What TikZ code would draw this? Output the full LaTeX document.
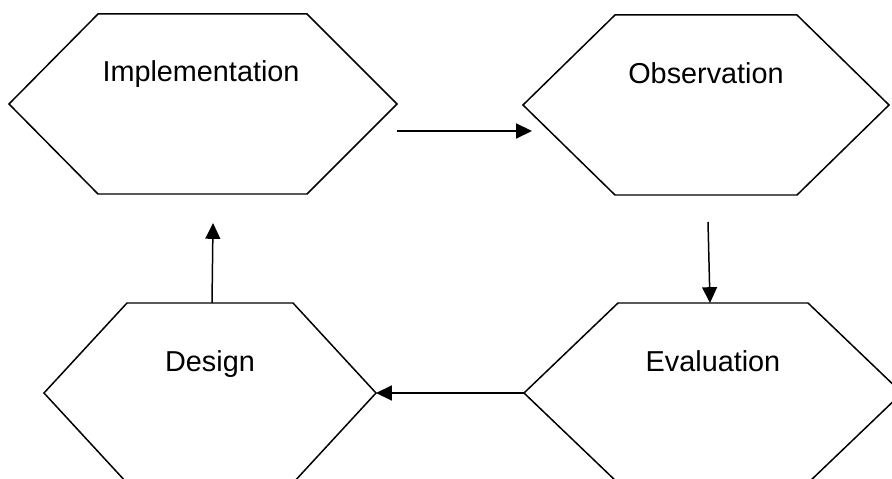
\documentclass[tikz,border=0pt]{standalone}
\usepackage{fontspec}
\setmainfont{Liberation Sans}
\usetikzlibrary{arrows.meta}

\tikzset{
  hexa/.style={draw, line width=0.85pt, line join=miter},
  phase/.style={anchor=base, inner sep=0pt, font=\fontsize{16.4}{19}\selectfont},
  flow/.style={-{Triangle[length=9pt, width=8.5pt]}, line width=0.85pt},
}

\begin{document}
\begin{tikzpicture}[x=0.02cm, y=-0.02cm]

\path[use as bounding box, clip] (0,0) rectangle (892,479);

% top left
\def\x{203}
\def\y{104}
\draw[hexa] (\x + -194, \y) -- (\x + -105, \y + -90) -- (\x + 104, \y + -90) -- (\x + 194, \y)
  -- (\x + 104, \y + 90) -- (\x + -105, \y + 90) -- cycle;
\node[phase] (impl) at (\x + -2, \y + -22) {Implementation};
\coordinate (impl-out) at (\x + 194, \y + 27);
\coordinate (impl-in) at (\x + 10, \y + 119);

% top right
\def\x{706}
\def\y{105}
\draw[hexa] (\x + -183, \y) -- (\x + -91, \y + -90) -- (\x + 91, \y + -90) -- (\x + 183, \y)
  -- (\x + 91, \y + 90) -- (\x + -91, \y + 90) -- cycle;
\node[phase] (obs) at (\x + 0, \y + -21) {Observation};
\coordinate (obs-in) at (\x + -174, \y + 26);
\coordinate (obs-out) at (\x + 2, \y + 117);

% bottom right
\def\x{713}
\def\y{393}
\draw[hexa] (\x + -189, \y) -- (\x + -95, \y + -90) -- (\x + 95, \y + -90) -- (\x + 189, \y)
  -- (\x + 95, \y + 90) -- (\x + -95, \y + 90) -- cycle;
\node[phase] (eval) at (\x + 0, \y + -21) {Evaluation};
\coordinate (eval-in) at (\x + -3, \y + -90);
\coordinate (eval-out) at (\x + -189, \y);

% bottom left
\def\x{210}
\def\y{393}
\draw[hexa] (\x + -166, \y) -- (\x + -83, \y + -90) -- (\x + 83, \y + -90) -- (\x + 166, \y)
  -- (\x + 83, \y + 90) -- (\x + -83, \y + 90) -- cycle;
\node[phase] (des) at (\x + 0, \y + -21) {Design};
\coordinate (des-in) at (\x + 166, \y);
\coordinate (des-out) at (\x + 2, \y + -90);

\draw[flow] (impl-out) -- (obs-in);
\draw[flow] (obs-out) -- (eval-in);
\draw[flow] (eval-out) -- (des-in);
\draw[flow] (des-out) -- (impl-in);

\end{tikzpicture}
\end{document}
